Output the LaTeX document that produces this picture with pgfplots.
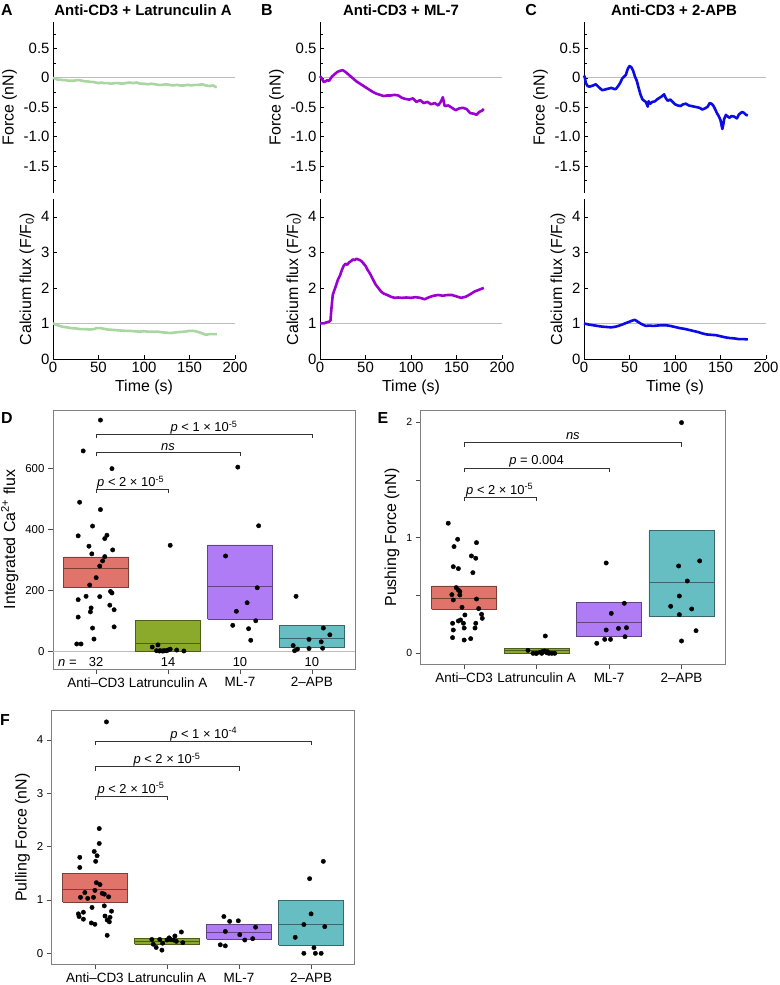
\documentclass[border=0pt]{standalone}
\usepackage{fontspec}
\setmainfont{Liberation Sans}
\usepackage{pgfplots}
\pgfplotsset{compat=1.18}

\definecolor{cA}{HTML}{A9D6A1}
\definecolor{cB}{HTML}{9C00D0}
\definecolor{cC}{HTML}{0B0BE8}
\definecolor{bR}{HTML}{E0736A}
\definecolor{bG}{HTML}{8BAA2B}
\definecolor{bP}{HTML}{B07CF5}
\definecolor{bT}{HTML}{66BEC2}
\definecolor{refg}{HTML}{BDBDBD}

\newcommand{\fs}[1]{\fontsize{#1}{#1}\selectfont}

\pgfplotsset{
  topax/.style={scale only axis, width=182bp, xmin=0, xmax=200, clip=false,
    axis y line*=left, tick align=inside,
    /pgf/number format/assume math mode=true,
    tick label style={font=\fs{15}},
    label style={font=\fs{16}},
    major tick length=4bp, minor tick length=2.5bp,
    tick style={black, line width=0.5bp},
    axis line style={black, line width=0.7bp}},
  topF/.style={topax, height=171bp, ymin=-1.96, ymax=0.95,
    axis x line=none, xtick=\empty,
    ytick={-1.5,-1,-0.5,0,0.5}, yticklabels={-1.5,-1.0,-0.5,0,0.5},
    minor ytick={-1.75,-1.25,-0.75,-0.25,0.25,0.75},
    ylabel={Force (nN)}},
  topC/.style={topax, height=160bp, ymin=0, ymax=4.5,
    axis x line*=bottom,
    xtick={0,50,100,150,200}, ytick={0,1,2,3,4},
    xlabel={Time (s)}, ylabel={Calcium flux (F/F\textsubscript{0})}},
  botax/.style={scale only axis, xmin=0.4, xmax=4.6, clip=false,
    axis line style={black!50, line width=0.8bp},
    tick align=outside, xtick pos=bottom, ytick pos=left,
    xtick={1,2,3,4}, xticklabels={Anti--CD3,Latrunculin A,ML-7,2--APB},
    x tick label style={font=\fs{13.5}},
    y tick label style={font=\fs{11.5}},
    /pgf/number format/assume math mode=true,
    label style={font=\fs{16}},
    major tick length=5bp,
    tick style={black!70, line width=0.6bp}},
  pts/.style={only marks, mark=*, mark size=2.2bp, black},
  brk/.style={black!80, line width=0.7bp},
  trace/.style={line width=2.6bp, line join=round},
  refl/.style={refg, line width=0.7bp},
  bxR/.style={fill=bR, draw=bR!55!black, line width=0.7bp},
  bxG/.style={fill=bG, draw=bG!55!black, line width=0.7bp},
  bxP/.style={fill=bP, draw=bP!55!black, line width=0.7bp},
  bxT/.style={fill=bT, draw=bT!55!black, line width=0.7bp},
  mdR/.style={draw=bR!55!black, line width=0.7bp},
  mdG/.style={draw=bG!55!black, line width=0.7bp},
  mdP/.style={draw=bP!55!black, line width=0.7bp},
  mdT/.style={draw=bT!55!black, line width=0.7bp},
}

\begin{document}
\begin{tikzpicture}
\path[use as bounding box] (0,0) rectangle (780bp,-985bp);

% ---------- panel letters and titles
\node[font=\bfseries\fs{16}] at (7bp,-10bp) {A};
\node[font=\bfseries\fs{16}] at (267bp,-10bp) {B};
\node[font=\bfseries\fs{16}] at (531bp,-10bp) {C};
\node[font=\bfseries\fs{16}] at (7bp,-418bp) {D};
\node[font=\bfseries\fs{16}] at (383bp,-418bp) {E};
\node[font=\bfseries\fs{16}] at (5bp,-720bp) {F};
\node[font=\bfseries\fs{15}] at (143bp,-10bp) {Anti-CD3 + Latrunculin A};
\node[font=\bfseries\fs{15}] at (401bp,-10bp) {Anti-CD3 + ML-7};
\node[font=\bfseries\fs{15}] at (674bp,-10bp) {Anti-CD3 + 2-APB};

% ================= A =================
\begin{axis}[topF, at={(53bp,-22bp)}, anchor=north west]
\addplot[refl] coordinates {(0,0)(200,0)};
\addplot[trace, cA] coordinates {(0,0.00)(2,-0.01)(5,-0.03)(8,-0.03)(11,-0.04)(14,-0.04)(17,-0.05)(20,-0.05)(23,-0.05)(26,-0.04)(29,-0.04)(32,-0.05)(35,-0.06)(38,-0.06)(41,-0.07)(44,-0.07)(47,-0.08)(50,-0.09)(53,-0.08)(56,-0.09)(60,-0.09)(64,-0.10)(68,-0.09)(72,-0.09)(76,-0.10)(80,-0.09)(84,-0.08)(88,-0.09)(92,-0.08)(96,-0.10)(100,-0.10)(104,-0.11)(108,-0.10)(112,-0.11)(116,-0.12)(120,-0.12)(124,-0.11)(128,-0.12)(132,-0.13)(136,-0.12)(140,-0.13)(144,-0.13)(148,-0.12)(152,-0.13)(156,-0.12)(160,-0.12)(164,-0.11)(168,-0.13)(172,-0.14)(176,-0.13)(178,-0.15)(180,-0.16)};
\end{axis}
\begin{axis}[topC, at={(53bp,-199bp)}, anchor=north west]
\addplot[refl] coordinates {(0,1)(200,1)};
\addplot[trace, cA] coordinates {(0,1.0)(3,0.97)(6,0.94)(10,0.91)(15,0.89)(20,0.87)(25,0.86)(30,0.84)(35,0.84)(40,0.83)(45,0.84)(48,0.87)(52,0.87)(56,0.85)(60,0.83)(65,0.82)(70,0.81)(75,0.80)(80,0.79)(85,0.79)(90,0.78)(95,0.77)(100,0.78)(105,0.77)(110,0.77)(115,0.77)(120,0.75)(125,0.74)(130,0.73)(135,0.75)(140,0.76)(145,0.77)(150,0.79)(155,0.79)(158,0.77)(162,0.74)(165,0.71)(168,0.68)(172,0.70)(176,0.70)(180,0.70)};
\end{axis}

% ================= B =================
\begin{axis}[topF, at={(320bp,-22bp)}, anchor=north west]
\addplot[refl] coordinates {(0,0)(200,0)};
\addplot[trace, cB] coordinates {(0,0.03)(2,-0.01)(4,-0.07)(6,-0.06)(8,-0.04)(10,-0.05)(13,0.02)(16,0.06)(19,0.10)(22,0.12)(25,0.13)(28,0.10)(31,0.06)(34,0.02)(37,-0.02)(40,-0.06)(43,-0.09)(46,-0.12)(50,-0.16)(54,-0.20)(58,-0.24)(62,-0.27)(66,-0.29)(70,-0.31)(74,-0.30)(78,-0.30)(82,-0.29)(86,-0.30)(90,-0.34)(94,-0.36)(98,-0.37)(102,-0.35)(106,-0.41)(110,-0.38)(114,-0.43)(118,-0.41)(122,-0.45)(126,-0.43)(130,-0.47)(133,-0.40)(135,-0.33)(137,-0.48)(141,-0.47)(145,-0.51)(149,-0.55)(153,-0.52)(157,-0.51)(161,-0.53)(165,-0.60)(169,-0.61)(172,-0.63)(175,-0.58)(178,-0.56)(180,-0.53)};
\end{axis}
\begin{axis}[topC, at={(320bp,-199bp)}, anchor=north west]
\addplot[refl] coordinates {(0,1)(200,1)};
\addplot[trace, cB] coordinates {(0,1.0)(4,1.0)(7,1.03)(10,1.05)(11.5,1.08)(12.5,1.4)(14,1.8)(16,1.95)(18,2.1)(20,2.25)(22,2.35)(24,2.5)(26,2.62)(28,2.68)(30,2.65)(32,2.72)(34,2.75)(36,2.8)(38,2.78)(40,2.82)(42,2.8)(44,2.78)(46,2.74)(48,2.68)(50,2.62)(52,2.52)(55,2.4)(58,2.25)(61,2.1)(64,2.0)(67,1.9)(70,1.84)(74,1.8)(78,1.75)(82,1.72)(86,1.73)(90,1.72)(95,1.73)(100,1.72)(105,1.74)(110,1.72)(115,1.68)(120,1.74)(125,1.78)(130,1.80)(135,1.78)(140,1.80)(145,1.80)(150,1.76)(155,1.72)(160,1.75)(165,1.82)(170,1.90)(175,1.95)(180,2.0)};
\end{axis}

% ================= C =================
\begin{axis}[topF, at={(584bp,-22bp)}, anchor=north west]
\addplot[refl] coordinates {(0,0)(200,0)};
\addplot[trace, cC] coordinates {(0,0.04)(1,0.0)(2,-0.09)(4,-0.14)(6,-0.15)(8,-0.14)(10,-0.13)(13,-0.11)(15,-0.14)(17,-0.17)(20,-0.21)(23,-0.20)(25,-0.19)(28,-0.18)(30,-0.17)(33,-0.19)(35,-0.19)(38,-0.13)(40,-0.08)(42,-0.01)(44,0.02)(46,0.05)(48,0.15)(50,0.20)(52,0.18)(54,0.12)(56,0.02)(58,-0.05)(60,-0.17)(62,-0.28)(64,-0.36)(66,-0.39)(68,-0.41)(70,-0.49)(71,-0.40)(73,-0.44)(75,-0.41)(78,-0.40)(80,-0.37)(83,-0.34)(86,-0.31)(88,-0.28)(90,-0.35)(92,-0.39)(95,-0.37)(98,-0.42)(100,-0.45)(103,-0.47)(106,-0.48)(109,-0.45)(112,-0.44)(115,-0.47)(118,-0.48)(121,-0.49)(124,-0.50)(127,-0.51)(130,-0.54)(133,-0.52)(136,-0.49)(138,-0.43)(140,-0.44)(142,-0.47)(144,-0.53)(146,-0.60)(148,-0.65)(150,-0.72)(152,-0.87)(153,-0.80)(154,-0.70)(156,-0.63)(158,-0.66)(160,-0.68)(162,-0.65)(165,-0.66)(168,-0.69)(170,-0.63)(172,-0.60)(174,-0.58)(176,-0.60)(178,-0.63)(180,-0.64)};
\end{axis}
\begin{axis}[topC, at={(584bp,-199bp)}, anchor=north west]
\addplot[refl] coordinates {(0,1)(200,1)};
\addplot[trace, cC] coordinates {(0,1.0)(5,0.97)(10,0.95)(15,0.93)(20,0.91)(25,0.90)(30,0.89)(35,0.91)(40,0.95)(45,1.0)(50,1.05)(53,1.08)(56,1.10)(59,1.05)(62,1.0)(65,0.96)(68,0.93)(72,0.94)(76,0.93)(80,0.94)(85,0.95)(90,0.95)(95,0.93)(100,0.90)(105,0.87)(110,0.85)(115,0.82)(120,0.79)(125,0.76)(130,0.72)(135,0.69)(140,0.68)(145,0.67)(150,0.64)(155,0.61)(160,0.59)(165,0.58)(170,0.56)(175,0.56)(180,0.55)};
\end{axis}

% ================= D =================
\begin{axis}[botax, at={(53bp,-410bp)}, anchor=north west, width=302bp, height=259bp,
  ymin=-57, ymax=791, ytick={0,200,400,600},
  ylabel={Integrated Ca\textsuperscript{2+} flux}]
\addplot[refl] coordinates {(0.4,0)(4.6,0)};
\addplot[bxR] coordinates {(0.55,209)(1.45,209)(1.45,310)(0.55,310)(0.55,209)};
\addplot[mdR] coordinates {(0.55,271)(1.45,271)};
\addplot[bxG] coordinates {(1.55,0)(2.45,0)(2.45,101)(1.55,101)(1.55,0)};
\addplot[mdG] coordinates {(1.55,27.5)(2.45,27.5)};
\addplot[bxP] coordinates {(2.55,106.6)(3.45,106.6)(3.45,349.5)(2.55,349.5)(2.55,106.6)};
\addplot[mdP] coordinates {(2.55,212)(3.45,212)};
\addplot[bxT] coordinates {(3.55,13.2)(4.45,13.2)(4.45,85.7)(3.55,85.7)(3.55,13.2)};
\addplot[mdT] coordinates {(3.55,42.9)(4.45,42.9)};
\addplot[pts] coordinates {(1.06,758)(0.82,657)(1.22,599)(0.77,489)(1.06,465)(0.95,411)(0.75,379)(1.15,381)(1.12,370)(0.90,345)(1.23,333)(0.94,320)(1.12,311)(1.09,297)(1.05,280)(1.00,242)(0.91,218)(1.20,197)(1.22,192)(0.86,181)(1.05,180)(0.75,170)(0.93,143)(1.19,152)(1.25,137)(0.92,130)(0.75,113)(1.25,81)(0.95,77)(0.97,41)(0.73,25)(0.79,25)};
\addplot[pts] coordinates {(2.03,348)(1.78,15)(1.86,22)(1.84,3)(1.88,2)(1.92,2)(1.95,3)(2.00,5)(2.03,8)(2.12,5)(2.22,2)(1.93,2)(1.98,3)(1.89,3)};
\addplot[pts] coordinates {(2.97,604)(3.26,412)(2.80,313)(3.24,209)(3.10,160)(2.95,132)(3.22,101)(2.90,86)(3.12,75)(3.15,37)};
\addplot[pts] coordinates {(3.78,181)(4.16,77)(4.25,55)(3.96,40)(4.13,32)(3.74,20)(3.80,8)(3.76,3)(3.96,10)(4.15,11)};
\addplot[brk] coordinates {(1,699)(1,711.6)(4,711.6)(4,699)};
\addplot[brk] coordinates {(1,639)(1,651.4)(3,651.4)(3,639)};
\addplot[brk] coordinates {(1,519)(1,531.6)(2,531.6)(2,519)};
\node[anchor=base, font=\fs{13}, yshift=2.5bp] at (axis cs:2.5,711.6) {\textit{p} < 1 × 10\textsuperscript{-5}};
\node[anchor=base, font=\fs{13}, yshift=2.5bp] at (axis cs:2.0,651.4) {\textit{ns}};
\node[anchor=base, font=\fs{13}, yshift=2.5bp] at (axis cs:1.48,531.6) {\textit{p} < 2 × 10\textsuperscript{-5}};
\node[anchor=base, font=\fs{13}] at (axis cs:0.6,-50) {\textit{n} =};
\node[anchor=base, font=\fs{13}] at (axis cs:1,-50) {32};
\node[anchor=base, font=\fs{13}] at (axis cs:2,-50) {14};
\node[anchor=base, font=\fs{13}] at (axis cs:3,-50) {10};
\node[anchor=base, font=\fs{13}] at (axis cs:4,-50) {10};
\end{axis}

% ================= E =================
\begin{axis}[botax, at={(420.7bp,-410.7bp)}, anchor=north west, width=304.3bp, height=253.6bp,
  ymin=-0.095, ymax=2.1, ytick={0,0.5,1,1.5,2}, yticklabels={0,,1,,2},
  y tick label style={font=\fs{10.5}},
  ylabel={Pushing Force (nN)}]
\addplot[bxR] coordinates {(0.55,0.381)(1.45,0.381)(1.45,0.583)(0.55,0.583)(0.55,0.381)};
\addplot[mdR] coordinates {(0.55,0.476)(1.45,0.476)};
\addplot[bxG] coordinates {(1.55,0)(2.45,0)(2.45,0.046)(1.55,0.046)(1.55,0)};
\addplot[mdG] coordinates {(1.55,0.023)(2.45,0.023)};
\addplot[bxP] coordinates {(2.55,0.150)(3.45,0.150)(3.45,0.442)(2.55,0.442)(2.55,0.150)};
\addplot[mdP] coordinates {(2.55,0.268)(3.45,0.268)};
\addplot[bxT] coordinates {(3.55,0.320)(4.45,0.320)(4.45,1.062)(3.55,1.062)(3.55,0.320)};
\addplot[mdT] coordinates {(3.55,0.612)(4.45,0.612)};
\addplot[pts] coordinates {(0.78,1.126)(0.91,0.987)(1.17,0.958)(0.86,0.924)(1.10,0.843)(1.16,0.823)(0.85,0.75)(0.92,0.733)(1.12,0.698)(0.89,0.569)(0.92,0.548)(0.94,0.534)(0.83,0.508)(0.85,0.462)(1.17,0.47)(0.97,0.398)(1.20,0.387)(1.01,0.332)(1.24,0.338)(1.25,0.303)(0.95,0.289)(0.92,0.28)(0.84,0.26)(1.16,0.26)(0.99,0.26)(1.00,0.219)(1.15,0.219)(0.85,0.202)(0.84,0.136)(1.09,0.127)(1.00,0.115)(0.94,0.505)};
\addplot[pts] coordinates {(2.12,0.15)(1.88,0.026)(1.95,0.0)(2.00,0.0)(2.05,0.01)(2.08,0.015)(2.11,0.02)(2.14,0.005)(2.17,0.0)(2.25,0.0)(1.99,0.0)(2.15,0.015)(2.21,0.0)(2.07,0.0)};
\addplot[pts] coordinates {(2.96,0.782)(3.21,0.433)(3.03,0.346)(2.96,0.202)(3.13,0.216)(3.24,0.222)(3.22,0.144)(2.94,0.121)(3.02,0.121)(2.83,0.087)};
\addplot[pts] coordinates {(4.00,1.997)(4.25,0.8)(3.96,0.756)(4.08,0.626)(3.97,0.496)(3.85,0.407)(4.14,0.384)(3.97,0.335)(4.20,0.196)(4.00,0.107)};
\addplot[brk] coordinates {(1,1.789)(1,1.824)(4,1.824)(4,1.789)};
\addplot[brk] coordinates {(1,1.570)(1,1.605)(3,1.605)(3,1.570)};
\addplot[brk] coordinates {(1,1.316)(1,1.351)(2,1.351)(2,1.316)};
\node[anchor=base, font=\fs{13}, yshift=3bp] at (axis cs:2.5,1.824) {\textit{ns}};
\node[anchor=base, font=\fs{13}, yshift=3bp] at (axis cs:2.0,1.605) {\textit{p} = 0.004};
\node[anchor=base, font=\fs{13}, yshift=3bp] at (axis cs:1.49,1.351) {\textit{p} < 2 × 10\textsuperscript{-5}};
\end{axis}

% ================= F =================
\begin{axis}[botax, at={(51.7bp,-710.7bp)}, anchor=north west, width=302.6bp, height=253.6bp,
  ymin=-0.206, ymax=4.55, ytick={0,1,2,3,4},
  ylabel={Pulling Force (nN)}]
\addplot[bxR] coordinates {(0.55,0.9625)(1.45,0.9625)(1.45,1.506)(0.55,1.506)(0.55,0.9625)};
\addplot[mdR] coordinates {(0.55,1.2)(1.45,1.2)};
\addplot[bxG] coordinates {(1.55,0.169)(2.45,0.169)(2.45,0.281)(1.55,0.281)(1.55,0.169)};
\addplot[mdG] coordinates {(1.55,0.219)(2.45,0.219)};
\addplot[bxP] coordinates {(2.55,0.2625)(3.45,0.2625)(3.45,0.544)(2.55,0.544)(2.55,0.2625)};
\addplot[mdP] coordinates {(2.55,0.394)(3.45,0.394)};
\addplot[bxT] coordinates {(3.55,0.15)(4.45,0.15)(4.45,1.0)(3.55,1.0)(3.55,0.15)};
\addplot[mdT] coordinates {(3.55,0.5375)(4.45,0.5375)};
\addplot[pts] coordinates {(1.16,4.34)(1.06,2.34)(1.06,2.06)(0.99,1.91)(1.03,1.83)(0.79,1.8)(1.01,1.725)(0.79,1.61)(1.02,1.325)(1.07,1.29)(0.86,1.14)(1.00,1.18)(1.13,1.11)(1.19,1.06)(0.80,1.05)(0.90,1.03)(0.98,1.05)(0.96,0.86)(1.13,0.89)(0.84,0.77)(1.23,0.79)(0.77,0.74)(0.78,0.69)(1.14,0.7)(1.21,0.675)(0.84,0.64)(1.17,0.625)(1.20,0.59)(0.95,0.57)(1.00,0.545)(1.17,0.3375)(1.10,1.125)};
\addplot[pts] coordinates {(2.20,0.4)(2.11,0.325)(2.03,0.29)(1.90,0.26)(1.79,0.26)(2.00,0.25)(2.09,0.25)(2.13,0.225)(2.22,0.2)(1.81,0.17)(1.94,0.19)(1.85,0.11)(1.93,0.06)(2.05,0.26)};
\addplot[pts] coordinates {(2.79,0.69)(2.87,0.6)(2.99,0.61)(3.23,0.49)(2.81,0.41)(3.01,0.35)(2.74,0.16)(2.81,0.14)(3.08,0.25)(3.19,0.275)};
\addplot[pts] coordinates {(4.17,1.725)(3.98,1.4)(4.00,0.74)(3.90,0.54)(4.19,0.5)(3.78,0.3)(4.04,0.106)(3.90,0)(4.06,0)(4.14,0)};
\addplot[brk] coordinates {(1,3.906)(1,3.98)(4,3.98)(4,3.906)};
\addplot[brk] coordinates {(1,3.425)(1,3.5)(3,3.5)(3,3.425)};
\addplot[brk] coordinates {(1,2.875)(1,2.95)(2,2.95)(2,2.875)};
\node[anchor=base, font=\fs{13}, yshift=3bp] at (axis cs:2.51,3.98) {\textit{p} < 1 × 10\textsuperscript{-4}};
\node[anchor=base, font=\fs{13}, yshift=3bp] at (axis cs:2.0,3.5) {\textit{p} < 2 × 10\textsuperscript{-5}};
\node[anchor=base, font=\fs{13}, yshift=3bp] at (axis cs:1.5,2.95) {\textit{p} < 2 × 10\textsuperscript{-5}};
\end{axis}
\end{tikzpicture}
\end{document}
